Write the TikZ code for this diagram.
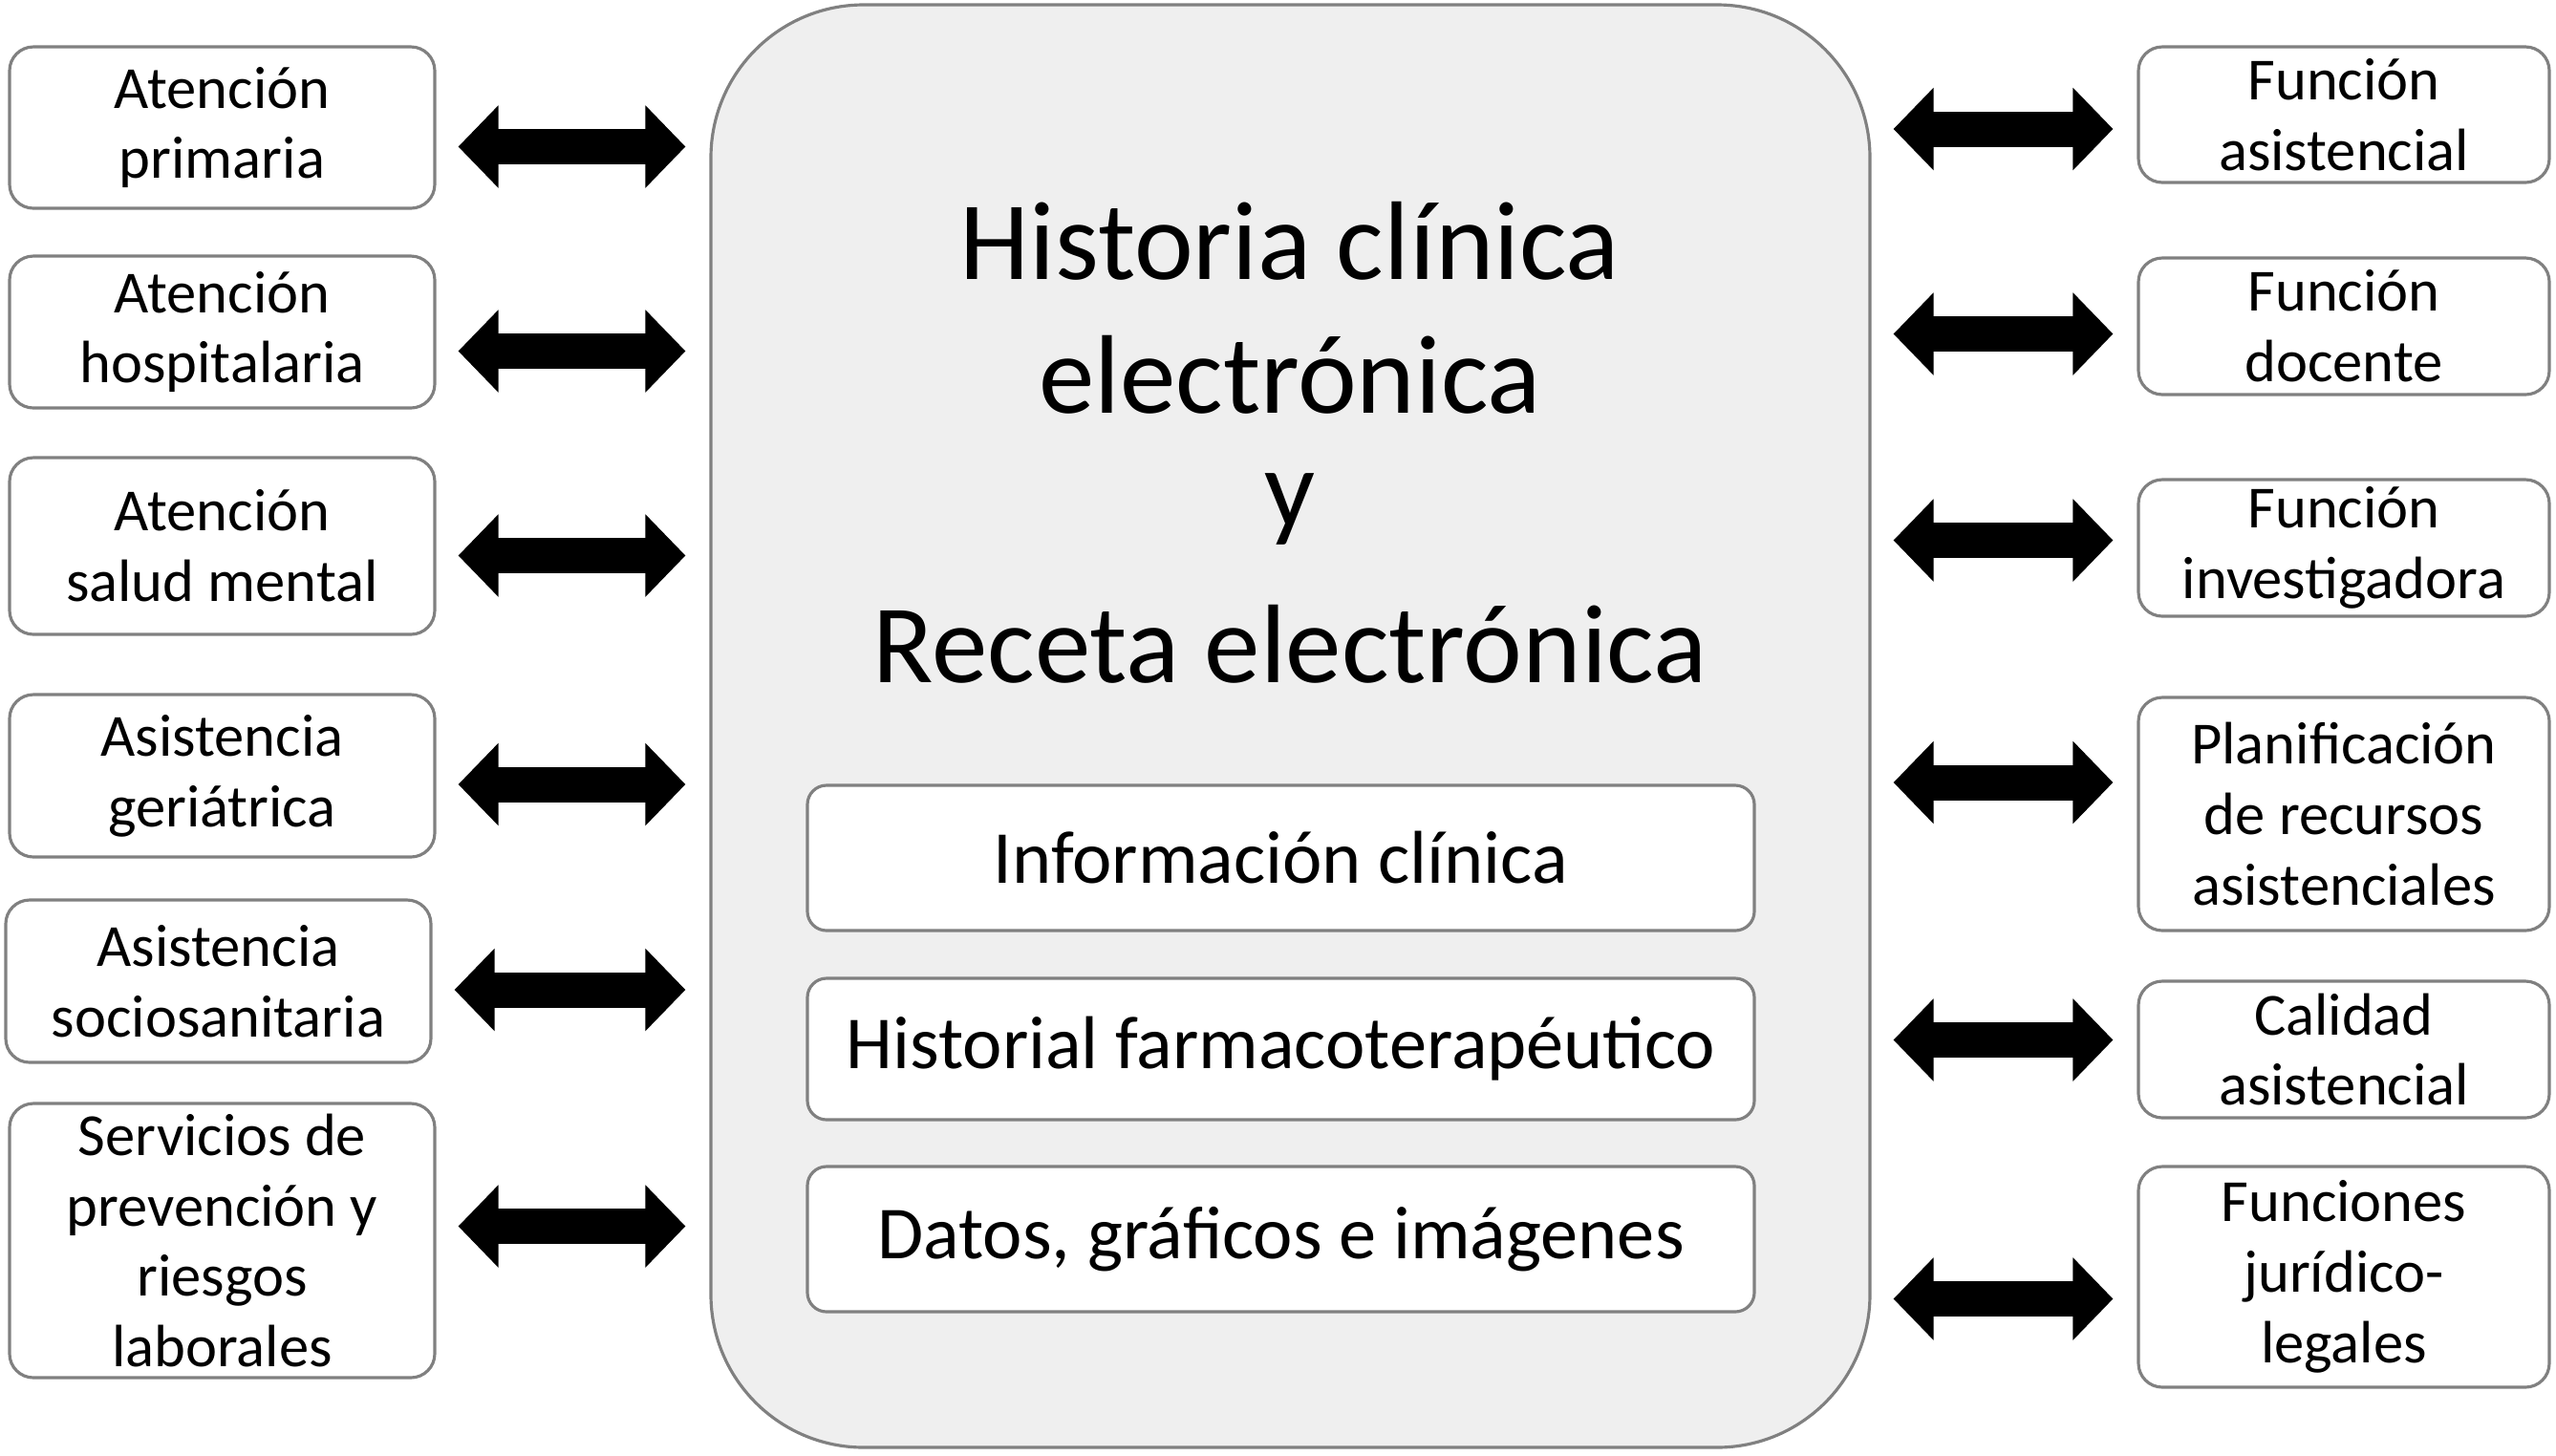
\documentclass[tikz,border=0pt]{standalone}
\usepackage{fontspec}
\setmainfont{Carlito}
\definecolor{hcgray}{RGB}{128,128,128}
\definecolor{hcfill}{RGB}{239,239,239}
\usetikzlibrary{arrows.meta,positioning}

\begin{document}
\begin{tikzpicture}[every node/.style={font=\fontsize{17.8}{21}\selectfont},
  bx/.style={rounded corners=0.25cm, draw=hcgray, line width=0.9pt, fill=white, align=center, inner sep=0pt},
  lbx/.style={bx, minimum width=4.45cm},
  rbx/.style={bx, minimum width=4.30cm},
  ibx/.style={bx, rounded corners=0.2cm, minimum width=9.91cm, font=\fontsize{22.3}{26}\selectfont},
  dbl/.style={line width=0.37cm, {Triangle[length=0.42cm, width=0.84cm]}-{Triangle[length=0.42cm, width=0.84cm]}, shorten <=0.23cm, shorten >=0.25cm}]
\useasboundingbox (0,0) rectangle (26.75,-15.23);
% Central block
\node[draw=hcgray, fill=hcfill, rounded corners=1.6cm, line width=0.9pt, minimum width=12.13cm, minimum height=15.10cm, inner sep=0pt] (hce) at (13.505,-7.60) {};
\node[font=\fontsize{33.3}{40}\selectfont, align=center, inner sep=0pt] (title) at (13.5,-4.63) {Historia clínica\\electrónica\\[-0.22cm]y\\[0.22cm]Receta electrónica};
\node[ibx, minimum height=1.52cm] (info) at (13.405,-8.98) {Información clínica};
\node[ibx, minimum height=1.48cm] (hfarm) at (13.405,-10.98) {Historial farmacoterapéutico};
\node[ibx, minimum height=1.52cm] (datos) at (13.405,-12.97) {Datos, gráficos e imágenes};
% Left column
\node[lbx, minimum height=1.69cm] (aprim) at (2.325,-1.335) {Atención\\primaria};
\node[lbx, minimum height=1.59cm] (ahosp) at (2.325,-3.475) {Atención\\hospitalaria};
\node[lbx, minimum height=1.85cm] (asalud) at (2.325,-5.715) {Atención\\salud mental};
\node[lbx, minimum height=1.70cm] (ager) at (2.325,-8.12) {Asistencia\\geriátrica};
\node[lbx, minimum height=1.70cm] (asocio) at (2.285,-10.27) {Asistencia\\sociosanitaria};
\node[lbx, minimum height=2.87cm] (aprev) at (2.325,-12.985) {Servicios de\\prevención y\\riesgos\\laborales};
% Right column
\node[rbx, minimum height=1.42cm] (fasist) at (24.53,-1.20) {Función\\asistencial};
\node[rbx, minimum height=1.43cm] (fdoc) at (24.53,-3.415) {Función\\docente};
\node[rbx, minimum height=1.43cm] (finv) at (24.53,-5.735) {Función\\investigadora};
\node[rbx, minimum height=2.44cm] (fplan) at (24.53,-8.52) {Planificación\\de recursos\\asistenciales};
\node[rbx, minimum height=1.43cm] (fcal) at (24.53,-10.985) {Calidad\\asistencial};
\node[rbx, minimum height=2.31cm] (fjur) at (24.53,-13.365) {Funciones\\jurídico-\\legales};
% Arrows
\draw[dbl] ([yshift=-0.20cm]aprim.east) -- ([yshift=-0.20cm]aprim.east -| hce.west);
\draw[dbl] ([yshift=-0.20cm]ahosp.east) -- ([yshift=-0.20cm]ahosp.east -| hce.west);
\draw[dbl] ([yshift=-0.10cm]asalud.east) -- ([yshift=-0.10cm]asalud.east -| hce.west);
\draw[dbl] ([yshift=-0.09cm]ager.east) -- ([yshift=-0.09cm]ager.east -| hce.west);
\draw[dbl] ([yshift=-0.09cm]asocio.east) -- ([yshift=-0.09cm]asocio.east -| hce.west);
\draw[dbl] ([yshift=0.15cm]aprev.east) -- ([yshift=0.15cm]aprev.east -| hce.west);
\draw[dbl] ([yshift=-0.15cm]hce.east |- fasist.west) -- ([yshift=-0.15cm]fasist.west);
\draw[dbl] ([yshift=-0.08cm]hce.east |- fdoc.west) -- ([yshift=-0.08cm]fdoc.west);
\draw[dbl] ([yshift=0.08cm]hce.east |- finv.west) -- ([yshift=0.08cm]finv.west);
\draw[dbl] ([yshift=0.33cm]hce.east |- fplan.west) -- ([yshift=0.33cm]fplan.west);
\draw[dbl] ([yshift=0.10cm]hce.east |- fcal.west) -- ([yshift=0.10cm]fcal.west);
\draw[dbl] ([yshift=-0.23cm]hce.east |- fjur.west) -- ([yshift=-0.23cm]fjur.west);
\end{tikzpicture}
\end{document}
